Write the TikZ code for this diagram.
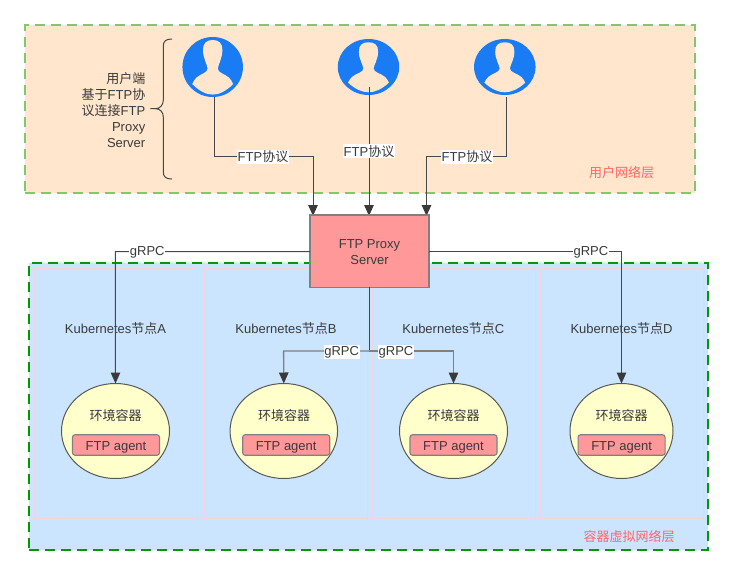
\documentclass[tikz,border=0pt]{standalone}
\usepackage{fontspec}
\setmainfont{Liberation Sans}
\newfontfamily\cjk{Noto Sans CJK SC}
\newcommand{\zh}[1]{{\cjk #1}}
\usetikzlibrary{arrows.meta,shapes.geometric}
\definecolor{userbg}{HTML}{FFE6CC}
\definecolor{usergreen}{HTML}{82C76E}
\definecolor{netbg}{HTML}{CCE5FF}
\definecolor{netgreen}{HTML}{009900}
\definecolor{panelline}{HTML}{EFD5DE}
\definecolor{redfill}{HTML}{FF9999}
\definecolor{iconblue}{HTML}{1A7CF5}
\definecolor{yellowfill}{HTML}{FFFFCC}
\definecolor{ink}{HTML}{3A3A3A}
\definecolor{redtext}{HTML}{FF6666}
\tikzset{
  every node/.style={font=\fontsize{13}{16}\selectfont,text=ink,inner sep=0,outer sep=0},
  layerbox/.style={rectangle,line width=#1,dash pattern=on 10pt off 6pt},
  panelbox/.style={rectangle,draw=panelline,fill=netbg,line width=1pt,minimum width=163pt,minimum height=250pt},
  proxybox/.style={rectangle,draw=black!50,fill=redfill,line width=1.2pt,minimum width=119pt,minimum height=72.5pt},
  envellipse/.style={ellipse,draw=black!65,fill=yellowfill,line width=1pt,minimum height=95pt},
  agentbox/.style={rectangle,rounded corners=2.5pt,draw=black!50,fill=redfill,line width=1.1pt,minimum width=87pt,minimum height=20.5pt},
  usericon/.style={ellipse,fill=iconblue,minimum height=56pt,minimum width=61.5pt},
  lbl/.style={fill=white,inner xsep=0.5pt,inner ysep=1pt,yshift=-1pt},
  wire/.style={draw=black!72,line width=1pt},
  arrowwire/.style={wire,-{Triangle[length=11pt,width=9.5pt,color=ink,fill=ink]}},
  softwire/.style={arrowwire,draw=black!50,line width=1.3pt},
  layertext/.style={text=redtext},
  silhouette/.style={fill=userbg},
}
\newcommand{\persona}[4]{%
  \begin{scope}[shift={(#1,#2)},x=#3pt,y=-#4pt]
    \fill[silhouette] (0,-0.9) .. controls (-0.2,-0.9) and (-0.33,-0.8) .. (-0.32,-0.55)
      .. controls (-0.32,-0.42) and (-0.3,-0.35) .. (-0.27,-0.27)
      .. controls (-0.24,-0.12) and (-0.17,-0.05) .. (-0.17,0.05)
      .. controls (-0.17,0.2) and (-0.4,0.22) .. (-0.55,0.36)
      .. controls (-0.62,0.43) and (-0.65,0.5) .. (-0.68,0.57)
      .. controls (-0.45,0.8) and (-0.22,0.92) .. (0,0.92)
      .. controls (0.22,0.92) and (0.45,0.8) .. (0.68,0.57)
      .. controls (0.65,0.5) and (0.62,0.43) .. (0.55,0.36)
      .. controls (0.4,0.22) and (0.17,0.2) .. (0.17,0.05)
      .. controls (0.17,-0.05) and (0.24,-0.12) .. (0.27,-0.27)
      .. controls (0.3,-0.35) and (0.32,-0.42) .. (0.32,-0.55)
      .. controls (0.33,-0.8) and (0.2,-0.9) .. (0,-0.9) -- cycle;
  \end{scope}}
\begin{document}
\begin{tikzpicture}[x=1pt,y=-1pt]
\useasboundingbox (0,0) rectangle (733,576);
% layers
\node[layerbox=1.6pt,draw=usergreen,fill=userbg,minimum width=670pt,minimum height=168pt] (userlayer) at (360,109) {};
\node[layerbox=2pt,draw=netgreen,fill=netbg,minimum width=679pt,minimum height=287pt] (netlayer) at (368.5,406.5) {};
% kubernetes panels
\node[panelbox] (pa) at (115.7,393) {};
\node[panelbox] (pb) at (285.8,393) {};
\node[panelbox] (pc) at (453.5,393) {};
\node[panelbox] (pd) at (621.5,393) {};
\node (ka) at (115.5,328.5) {Kubernetes\zh{节点}A};
\node (kb) at (286,328.5) {Kubernetes\zh{节点}B};
\node (kc) at (453.3,328.5) {Kubernetes\zh{节点}C};
\node (kd) at (621.5,328.5) {Kubernetes\zh{节点}D};
% containers
\node[envellipse,minimum width=108pt] (ea) at (115.5,431) {};
\node[envellipse,minimum width=107.5pt] (eb) at (283.8,431) {};
\node[envellipse,minimum width=108pt] (ec) at (453.5,431) {};
\node[envellipse,minimum width=103pt] (ed) at (621.5,431) {};
\node (ta) at (115.7,415.3) {\zh{环境容器}};
\node (tb) at (284,415.3) {\zh{环境容器}};
\node (tc) at (453.7,415.3) {\zh{环境容器}};
\node (td) at (621.7,415.3) {\zh{环境容器}};
\node[agentbox] (aa) at (116,445) {};
\node[agentbox] (ab) at (286.2,445) {};
\node[agentbox] (ac) at (453.5,445) {};
\node[agentbox] (ad) at (621.6,445) {};
\node (xa) at (116,447) {FTP agent};
\node (xb) at (286.2,447) {FTP agent};
\node (xc) at (453.5,447) {FTP agent};
\node (xd) at (621.6,447) {FTP agent};
% users
\node[usericon,minimum width=60.5pt,minimum height=60pt] (u1) at (212.7,67) {};
\node[usericon] (u2) at (368.5,67) {};
\node[usericon] (u3) at (504.8,67) {};
\persona{212.7}{67}{30}{30}
\persona{368.5}{67}{30}{27.5}
\persona{504.8}{67}{30}{27.5}
% brace and side note
\node[align=right,anchor=east] (note) at (145.3,110) {\zh{用户端}\\\zh{基于}FTP\zh{协}\\\zh{议连接}FTP~\\Proxy~\\Server};
\coordinate (bracetip) at (150.3,108.7);
\draw[draw=black!72,line width=1pt] (172,39) .. controls (166,39) and (163.3,41) .. (163.3,46)
  -- (163.3,100) .. controls (163.3,105) and (160,108.7) .. (155.5,108.7) -- (bracetip)
  -- (155.5,108.7) .. controls (160,108.7) and (163.3,112) .. (163.3,117)
  -- (163.3,172) .. controls (163.3,177) and (166,179) .. (172,179);
% proxy anchors
\coordinate (u1s) at (214.5,97);
\coordinate (u2s) at (369,87);
\coordinate (u3s) at (506.5,97);
\coordinate (p1) at (313,216);
\coordinate (p2) at (369,216);
\coordinate (p3) at (426.5,216);
\coordinate (trunk) at (369,351);
\coordinate (pl) at (310,251.5);
\coordinate (pr) at (429,251.5);
\coordinate (pbottom) at (369,287);
% user connectors
\draw[arrowwire] (u1s) |- node[lbl,pos=1] {FTP\zh{协议}} (263,156) -| (p1);
\draw[arrowwire] (u2s) -- node[lbl,pos=0.49] {FTP\zh{协议}} (p2);
\draw[arrowwire] (u3s) |- node[lbl,pos=1] {FTP\zh{协议}} (467,156) -| (p3);
% proxy
\node[proxybox] (proxy) at (369.5,251.2) {};
\node[align=center] (proxytext) at (369.5,252) {FTP Proxy\\Server};
% grpc connectors
\draw[arrowwire] (pl) -- node[lbl,pos=0.836] {gRPC} (115.3,251.5) -- (ea.north);
\draw[arrowwire] (pr) -- node[lbl,pos=0.841] {gRPC} (621.5,251.5) -- (ed.north);
\draw[wire] (pbottom) -- (trunk);
\draw[softwire] (trunk) -- node[lbl,pos=0.32] {gRPC} (283.6,351) -- (eb.north);
\draw[softwire] (trunk) -- node[lbl,pos=0.32] {gRPC} (453.5,351) -- (ec.north);
% layer names
\node[layertext] (ul) at (621.5,173) {\zh{用户网络层}};
\node[layertext] (nl) at (629,537) {\zh{容器虚拟网络层}};
\end{tikzpicture}
\end{document}
